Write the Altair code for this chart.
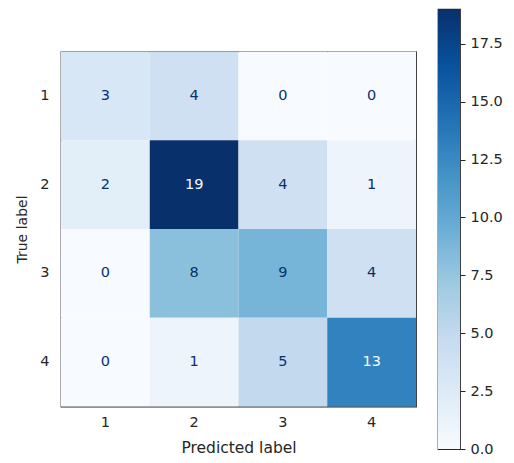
import altair as alt
import pandas as pd

# ---- data ----
true_labels = ["1", "2", "3", "4"]
pred_labels = ["1", "2", "3", "4"]
counts = [
    [3, 4, 0, 0],
    [2, 19, 4, 1],
    [0, 8, 9, 4],
    [0, 1, 5, 13],
]
colorbar_ticks = [0.0, 2.5, 5.0, 7.5, 10.0, 12.5, 15.0, 17.5]

# matplotlib "Blues" colormap stops
blues = ["#f7fbff", "#deebf7", "#c6dbef", "#9ecae1", "#6baed6",
         "#4292c6", "#2171b5", "#08519c", "#08306b"]

rows = []
for i, t in enumerate(true_labels):
    for j, p in enumerate(pred_labels):
        rows.append({"true": t, "pred": p, "value": counts[i][j]})
df = pd.DataFrame(rows)

vmin = 0
vmax = max(max(r) for r in counts)
thresh = (vmin + vmax) / 2
n = len(blues) - 1
domain_stops = [vmin + (vmax - vmin) * k / n for k in range(n + 1)]

FONT = "DejaVu Sans"
TXT = "#262626"

base = alt.Chart(df).encode(
    x=alt.X("pred:O", sort=pred_labels,
            scale=alt.Scale(paddingInner=0, paddingOuter=0),
            axis=alt.Axis(title="Predicted label", labelAngle=0, ticks=False,
                          domain=False, labelPadding=9, titlePadding=11,
                          titleFontSize=15.5)),
    y=alt.Y("true:O", sort=true_labels,
            scale=alt.Scale(paddingInner=0, paddingOuter=0),
            axis=alt.Axis(title="True label", ticks=False, domain=False,
                          labelPadding=12, titlePadding=10, titleFontSize=14)),
)

rect = base.mark_rect().encode(
    color=alt.Color("value:Q",
                    scale=alt.Scale(domain=domain_stops, range=blues),
                    legend=None)
)

text = base.mark_text(font=FONT, fontSize=14.5).encode(
    text=alt.Text("value:Q"),
    color=alt.condition(alt.datum.value > thresh, alt.value(blues[0]),
                        alt.value(blues[-1])),
)

heat = alt.layer(rect, text).properties(width=355, height=355)

gradient = alt.LinearGradient(
    gradient="linear",
    stops=[alt.GradientStop(color=c, offset=k / n) for k, c in enumerate(blues)],
    x1=0, x2=0, y1=1, y2=0,
)

cbar_df = pd.DataFrame({"lo": [vmin], "hi": [vmax]})
cbar = alt.Chart(cbar_df).mark_rect(color=gradient).encode(
    y=alt.Y("lo:Q", scale=alt.Scale(domain=[vmin, vmax], nice=False, zero=False),
            axis=alt.Axis(orient="right", values=colorbar_ticks, format=".1f",
                          title=None, grid=False, domain=False, tickSize=5,
                          labelPadding=5)),
    y2="hi:Q",
).properties(width=22, height=440)

chart = alt.hconcat(heat, cbar, spacing=22, center=True, bounds="flush").properties(
    padding={"left": 7, "top": 0, "right": 0, "bottom": 0},
    background="white",
).configure_view(
    stroke=TXT, strokeWidth=1.25,
).configure_axis(
    labelFont=FONT, titleFont=FONT, labelFontSize=14.5,
    labelColor=TXT, titleColor=TXT, titleFontWeight="normal",
    tickColor=TXT, tickWidth=1,
)

chart.save("out.html", embed_options={"renderer": "svg", "actions": False})
